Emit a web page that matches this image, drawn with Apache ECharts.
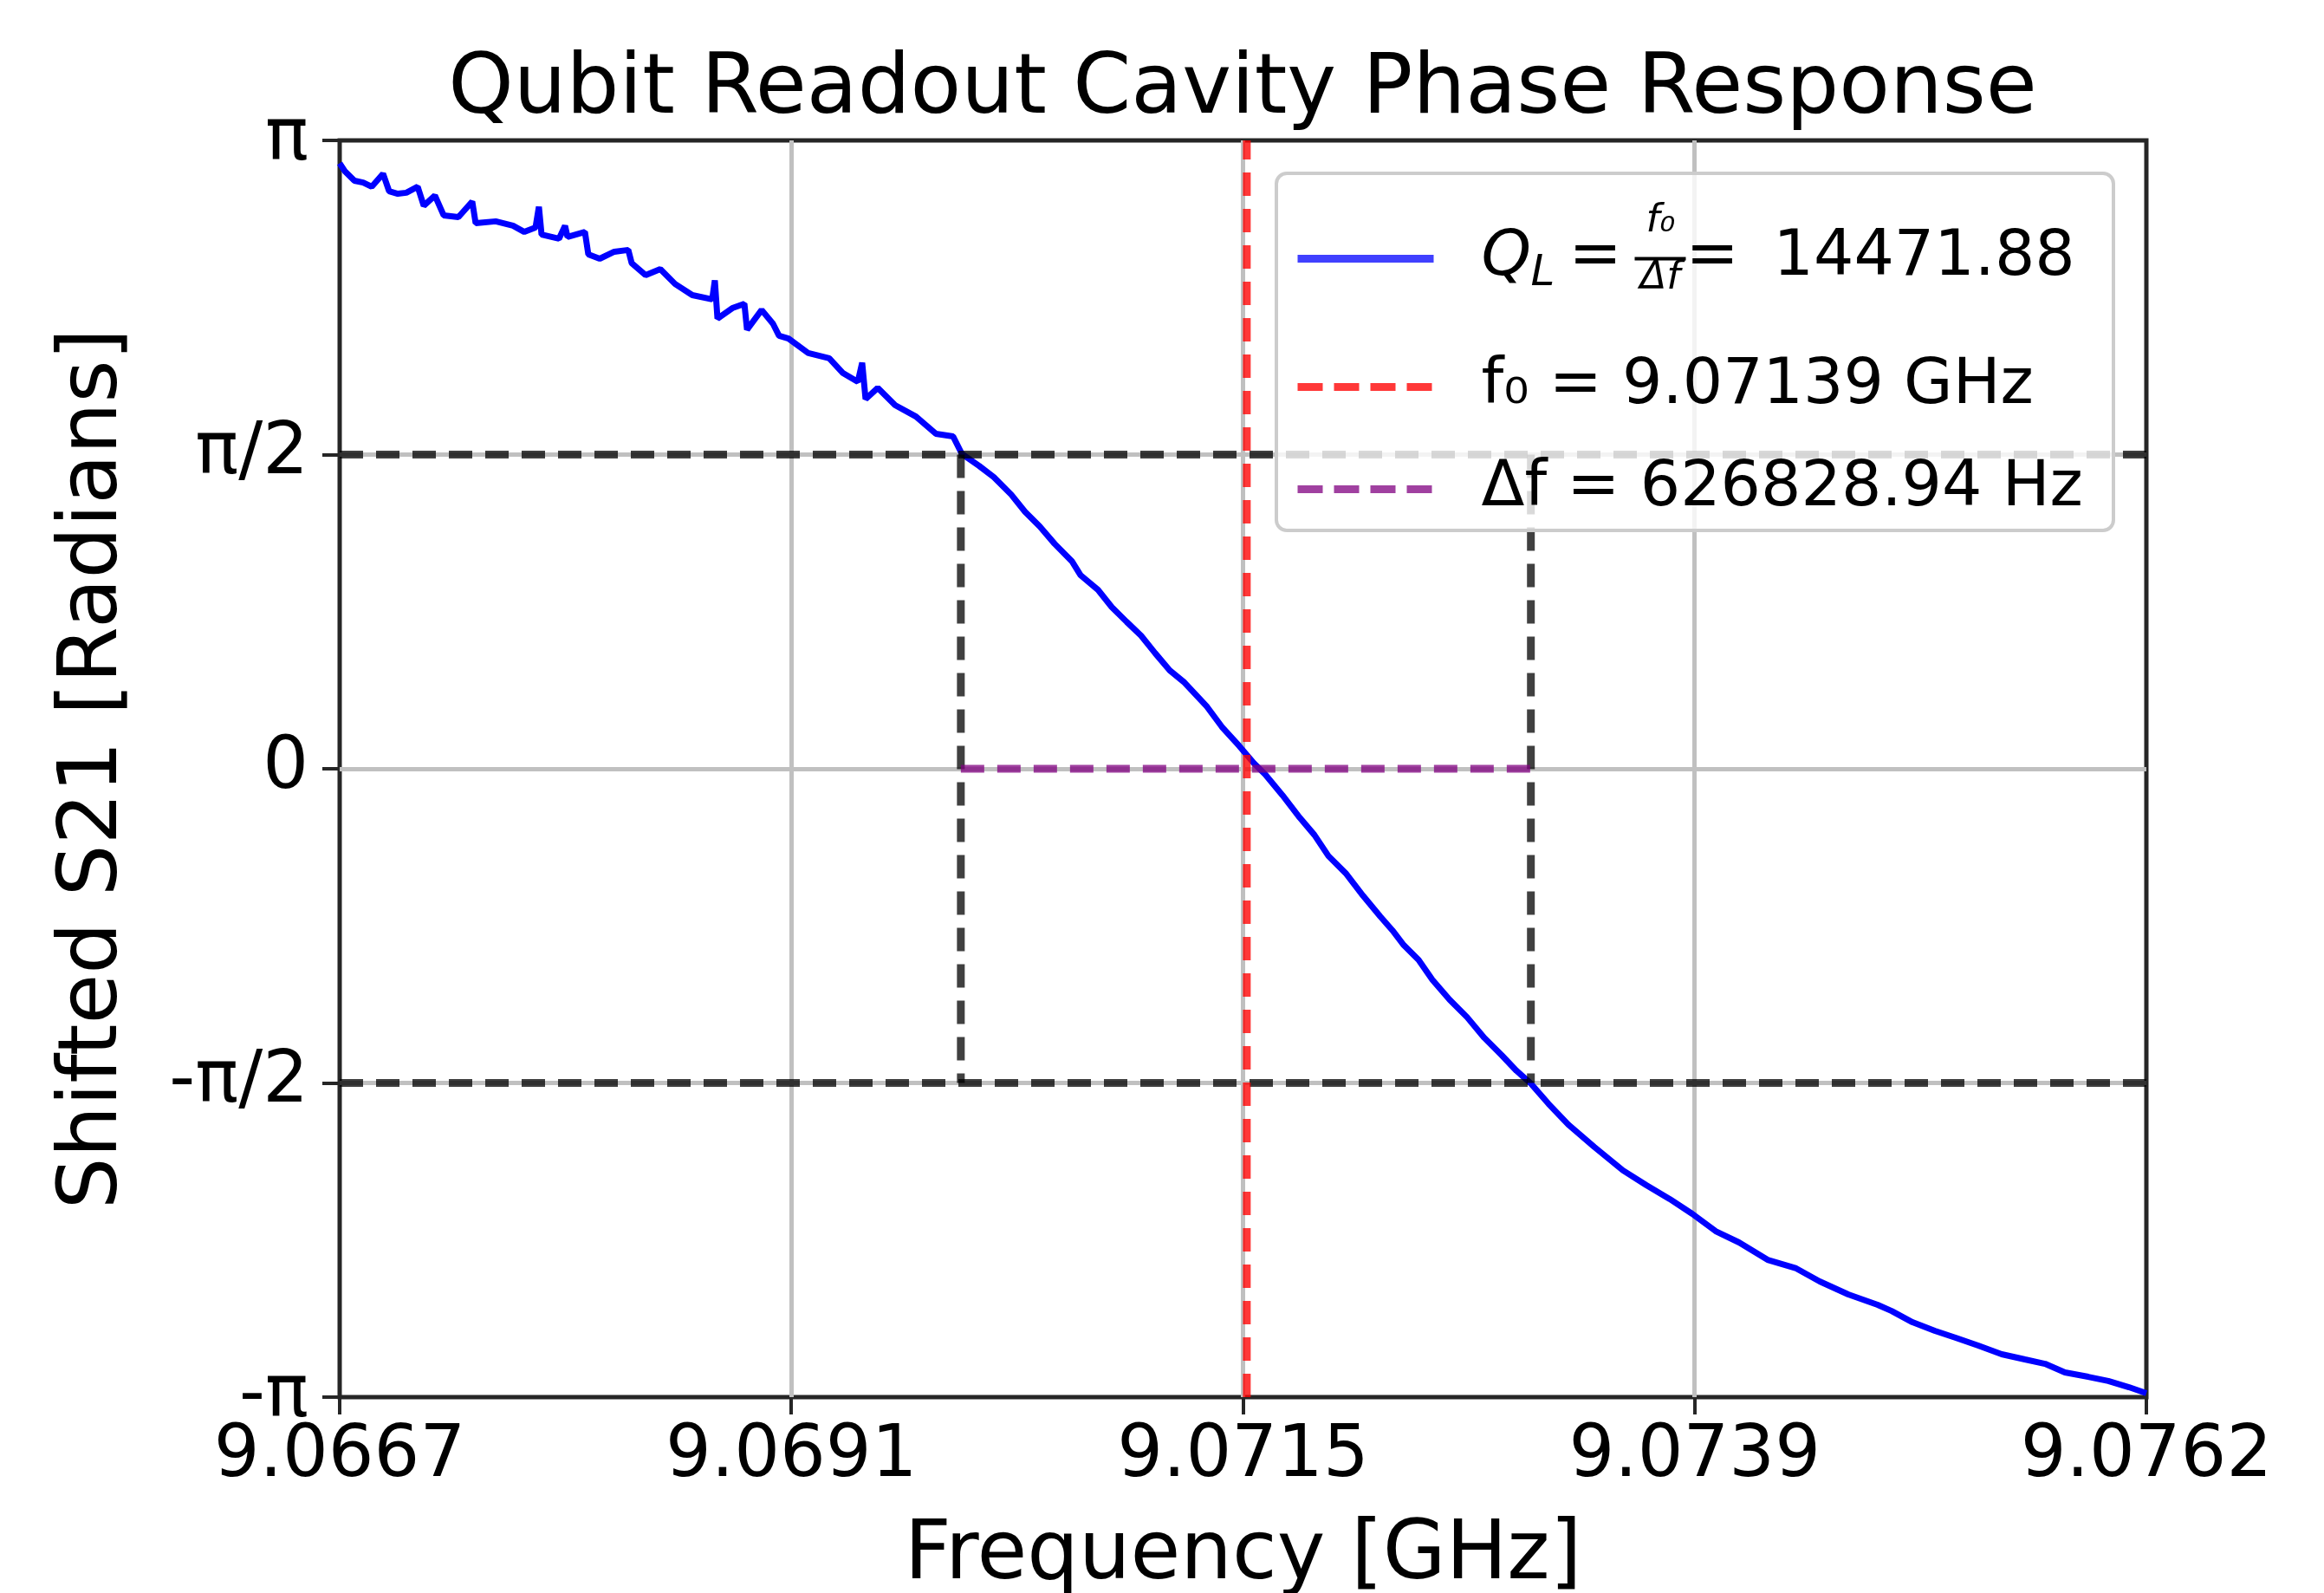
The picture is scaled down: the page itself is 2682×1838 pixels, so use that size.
<!DOCTYPE html>
<html>
<head>
<meta charset="utf-8">
<script src="https://cdn.jsdelivr.net/npm/echarts@6/dist/echarts.min.js"></script>
<style>
  html, body { margin: 0; padding: 0; background: #fff; }
  #main { width: 2682px; height: 1838px; }
</style>
</head>
<body>
<div id="main"></div>
<script>
var freqGHz = [
  9.066700, 9.066727, 9.066778, 9.066824, 9.066869, 9.066929, 9.066961, 9.067007, 9.067052, 9.067112,
  9.067144, 9.067203, 9.067249, 9.067327, 9.067400, 9.067418, 9.067524, 9.067615, 9.067675, 9.067734,
  9.067752, 9.067766, 9.067858, 9.067890, 9.067903, 9.067995, 9.068013, 9.068073, 9.068150, 9.068224,
  9.068242, 9.068315, 9.068393, 9.068471, 9.068562, 9.068667, 9.068681, 9.068695, 9.068773, 9.068837,
  9.068851, 9.068928, 9.068988, 9.069020, 9.069070,
  9.069175, 9.069285, 9.069358, 9.069436, 9.069459, 9.069477, 9.069541, 9.069633, 9.069743, 9.069848,
  9.069939, 9.069985, 9.070077, 9.070154, 9.070246, 9.070319, 9.070397, 9.070475, 9.070566, 9.070612,
  9.070704, 9.070777, 9.070855, 9.070932, 9.071006, 9.071083, 9.071161, 9.071280, 9.071358, 9.071449,
  9.071527, 9.071587, 9.071678, 9.071770, 9.071847, 9.071921, 9.072012, 9.072104, 9.072195, 9.072259,
  9.072319, 9.072397, 9.072470, 9.072561, 9.072653, 9.072744, 9.072836, 9.072914, 9.072991, 9.073083,
  9.073188, 9.073325, 9.073476, 9.073600, 9.073723, 9.073842, 9.073966, 9.074089, 9.074240, 9.074391,
  9.074515, 9.074666, 9.074821, 9.074895, 9.075005, 9.075123, 9.075233, 9.075352, 9.075476, 9.075599,
  9.075705, 9.075810, 9.075933, 9.076039, 9.076148, 9.076240
];
var phaseRad = [
  3.027, 2.988, 2.940, 2.931, 2.910, 2.975, 2.888, 2.875, 2.880, 2.910,
  2.815, 2.866, 2.767, 2.758, 2.836, 2.728, 2.737, 2.715, 2.684, 2.706,
  2.810, 2.671, 2.650, 2.715, 2.659, 2.684, 2.572, 2.550, 2.585, 2.594,
  2.528, 2.468, 2.498, 2.424, 2.368, 2.347, 2.442, 2.251, 2.303, 2.325,
  2.195, 2.294, 2.225, 2.165, 2.151,
  2.078, 2.052, 1.978, 1.935, 2.030, 1.848, 1.904, 1.818, 1.761, 1.675,
  1.662, 1.575, 1.514, 1.458, 1.371, 1.285, 1.211, 1.125, 1.038, 0.968,
  0.895, 0.808, 0.735, 0.665, 0.578, 0.492, 0.431, 0.310, 0.210, 0.115,
  0.028, -0.028, -0.132, -0.245, -0.331, -0.436, -0.522, -0.635, -0.739, -0.808,
  -0.882, -0.955, -1.055, -1.155, -1.242, -1.345, -1.432, -1.510, -1.575, -1.675,
  -1.779, -1.891, -2.008, -2.082, -2.151, -2.225, -2.312, -2.368, -2.455, -2.498,
  -2.563, -2.628, -2.680, -2.711, -2.767, -2.810, -2.845, -2.884, -2.927, -2.953,
  -2.975, -3.018, -3.040, -3.061, -3.092, -3.122
];

// axes
var xMin = 9.0667, xMax = 9.07624;
var xTickValues = [9.0667, 9.069085, 9.07147, 9.073855, 9.07624];
var xTickLabels = ['9.0667', '9.0691', '9.0715', '9.0739', '9.0762'];
var yTickValues = [-Math.PI, -Math.PI / 2, 0, Math.PI / 2, Math.PI];
var yTickLabels = ['-π', '-π/2', '0', 'π/2', 'π'];

// reference lines
var f0Line = 9.07149;
var halfPowerFreqs = [9.06998, 9.07299];
var halfLevels = [Math.PI / 2, -Math.PI / 2];

var FONT = 'DejaVu Sans';
var DASH = [27, 15];
var BLACK = 'rgba(0,0,0,0.75)';
var RED = 'rgba(255,0,0,0.78)';
var PURPLE = 'rgba(128,0,128,0.75)';

function pickLabel(values, labels, v) {
  for (var i = 0; i < values.length; i++) {
    if (Math.abs(values[i] - v) < 1e-6) return labels[i];
  }
  return '';
}

function dashed(data, color, name) {
  return {
    name: name,
    type: 'line',
    data: data,
    symbol: 'none',
    silent: true,
    lineStyle: { color: color, width: 9, type: DASH },
    itemStyle: { color: color },
    z: 2
  };
}

var richStyles = {
  g: { width: 50, height: 10, lineHeight: 10 },
  sp1: { width: 240, height: 10, lineHeight: 10 },
  sp2: { width: 233, height: 10, lineHeight: 10 },
  num: { fontFamily: FONT, fontStyle: 'italic', fontSize: 45, lineHeight: 46, color: '#000' },
  den: { fontFamily: FONT, fontStyle: 'italic', fontSize: 45, lineHeight: 46, height: 6, verticalAlign: 'top', color: '#000' },
  q: { fontFamily: FONT, fontStyle: 'italic', fontSize: 73, width: 57, lineHeight: 40, color: '#000' },
  qs: { fontFamily: FONT, fontStyle: 'italic', fontSize: 50, width: 44, height: 4, lineHeight: 4, verticalAlign: 'bottom', color: '#000' },
  eq: { fontFamily: FONT, fontSize: 73, width: 76, lineHeight: 40, color: '#000' },
  bar: { width: 59, height: 4, lineHeight: 4, backgroundColor: '#000' },
  eq2: { fontFamily: FONT, fontSize: 73, width: 101, lineHeight: 40, color: '#000' },
  rest: { fontFamily: FONT, fontSize: 73, lineHeight: 40, color: '#000' },
  row: { fontFamily: FONT, fontSize: 73, lineHeight: 80, color: '#000' }
};

function legendFor(name, top, lineStyle) {
  return {
    orient: 'vertical',
    left: 1493,
    top: top,
    padding: 0,
    itemWidth: 157,
    itemHeight: 10,
    selectedMode: false,
    z: 5,
    data: [{ name: name, lineStyle: lineStyle, itemStyle: { opacity: 0 } }],
    formatter: function (n) {
      if (n === 'QL') {
        return '{sp1|}{num|f₀}\n{g|}{q|Q}{qs|L}{eq|=}{bar|}{eq2|=}{rest|14471.88}\n{sp2|}{den|Δf}';
      }
      if (n === 'f0') return '{g|}{row|f₀ = 9.07139 GHz}';
      return '{g|}{row|Δf = 626828.94 Hz}';
    },
    textStyle: { fontFamily: FONT, fontSize: 73, color: '#000', rich: richStyles }
  };
}

var chart = echarts.init(document.getElementById('main'), null, { renderer: 'canvas' });

var option = {
  animation: false,
  backgroundColor: '#fff',
  title: {
    text: 'Qubit Readout Cavity Phase Response',
    left: 1434,
    top: 57,
    padding: 0,
    textAlign: 'center',
    textStyle: { fontFamily: FONT, fontSize: 96, fontWeight: 'normal', color: '#000' }
  },
  grid: {
    left: 392, right: 205, top: 162, bottom: 226,
    containLabel: false,
    outerBoundsMode: 'none',
    show: true, borderColor: '#262626', borderWidth: 5, backgroundColor: 'transparent'
  },
  // legend frame (semi-transparent like the matplotlib legend box)
  graphic: [{
    type: 'rect',
    z: 3,
    silent: true,
    shape: { x: 1473, y: 200, width: 966, height: 412, r: 12 },
    style: { fill: 'rgba(255,255,255,0.8)', stroke: '#cccccc', lineWidth: 4 }
  }],
  xAxis: {
    type: 'value',
    min: xMin, max: xMax,
    name: 'Frequency [GHz]',
    nameLocation: 'middle',
    nameGap: 138,
    nameTextStyle: { fontFamily: FONT, fontSize: 94, color: '#000' },
    axisLine: { show: false, onZero: false },
    axisTick: { show: true, customValues: xTickValues, length: 20, lineStyle: { color: '#262626', width: 4 } },
    axisLabel: {
      customValues: xTickValues,
      margin: 28,
      fontFamily: FONT, fontSize: 83, color: '#000',
      formatter: function (v) { return pickLabel(xTickValues, xTickLabels, v); }
    },
    splitLine: { show: true, showMinLine: false, showMaxLine: false, lineStyle: { color: '#c0c0c0', width: 5 } }
  },
  yAxis: {
    type: 'value',
    min: -Math.PI, max: Math.PI,
    name: 'Shifted S21 [Radians]',
    nameLocation: 'middle',
    nameGap: 235,
    nameRotate: 90,
    nameTextStyle: { fontFamily: FONT, fontSize: 94, color: '#000' },
    axisLine: { show: false, onZero: false },
    axisTick: { show: true, customValues: yTickValues, length: 20, lineStyle: { color: '#262626', width: 4 } },
    axisLabel: {
      customValues: yTickValues,
      margin: 36,
      fontFamily: FONT, fontSize: 83, color: '#000',
      formatter: function (v) { return pickLabel(yTickValues, yTickLabels, v); }
    },
    splitLine: { show: true, showMinLine: false, showMaxLine: false, lineStyle: { color: '#c0c0c0', width: 5 } }
  },
  legend: [
    legendFor('QL', 219, { color: '#4040ff', width: 9, type: 'solid' }),
    legendFor('f0', 410, { color: RED, width: 9, type: [29, 13] }),
    legendFor('df', 528, { color: PURPLE, width: 9, type: [29, 13] })
  ],
  series: [
    {
      name: 'QL',
      type: 'line',
      data: freqGHz.map(function (f, i) { return [f, phaseRad[i]]; }),
      symbol: 'none',
      lineStyle: { color: '#0000ff', width: 7 },
      itemStyle: { color: '#0000ff' },
      z: 2
    },
    dashed([[xMin, halfLevels[0]], [xMax, halfLevels[0]]], BLACK, 'hp1'),
    dashed([[xMin, halfLevels[1]], [xMax, halfLevels[1]]], BLACK, 'hp2'),
    dashed([[halfPowerFreqs[0], halfLevels[0]], [halfPowerFreqs[0], halfLevels[1]]], BLACK, 'hp3'),
    dashed([[halfPowerFreqs[1], halfLevels[0]], [halfPowerFreqs[1], halfLevels[1]]], BLACK, 'hp4'),
    dashed([[f0Line, -Math.PI], [f0Line, Math.PI]], RED, 'f0'),
    dashed([[halfPowerFreqs[0], 0], [halfPowerFreqs[1], 0]], PURPLE, 'df')
  ]
};

chart.setOption(option);
window.addEventListener('resize', function () { chart.resize(); });
</script>
</body>
</html>
